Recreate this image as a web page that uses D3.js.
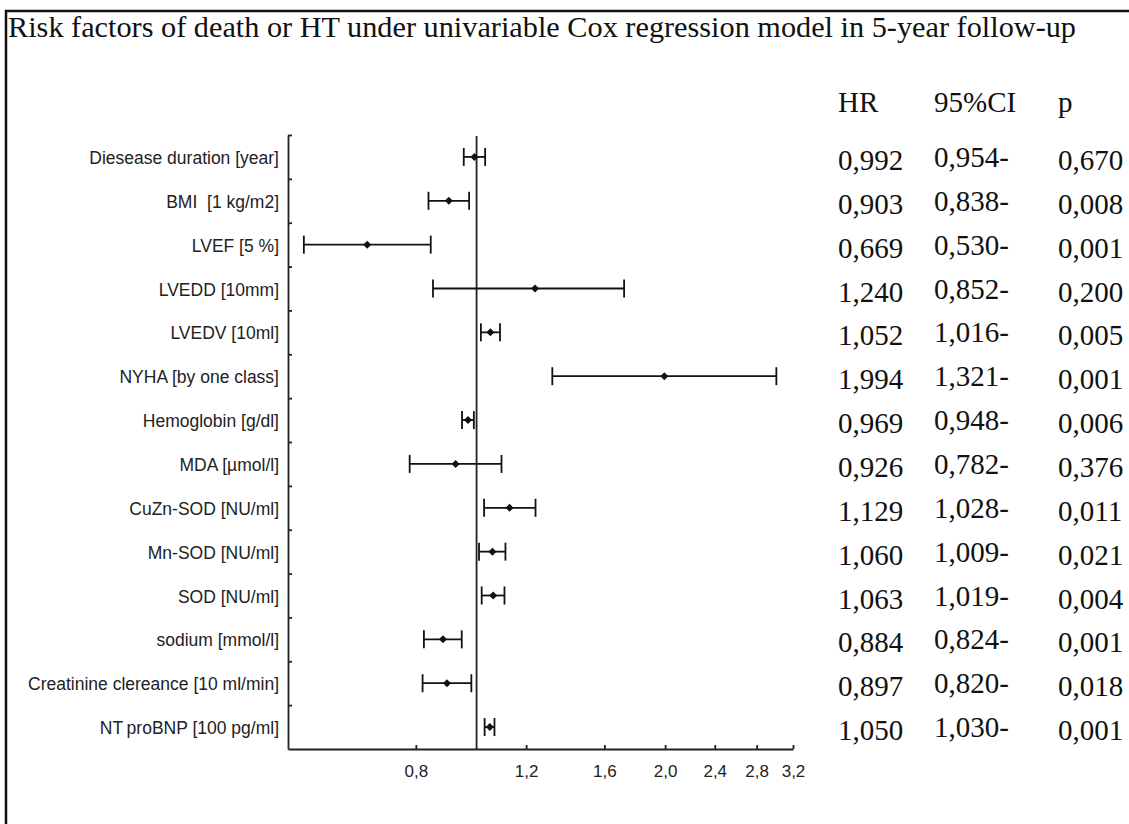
<!DOCTYPE html>
<html>
<head>
<meta charset="utf-8">
<script src="https://cdn.jsdelivr.net/npm/d3@7"></script>
<style>
  body { margin: 0; background: #fff; }
  svg { display: block; }
  text { white-space: pre; }
  .serif { font-family: "Liberation Serif", "Times New Roman", serif; fill: #111; }
  .sans { font-family: "Liberation Sans", Arial, sans-serif; fill: #222; }
</style>
</head>
<body>
<svg id="forest"></svg>
<script>
const labels = [
  "Diesease duration [year]",
  "BMI  [1 kg/m2]",
  "LVEF [5 %]",
  "LVEDD [10mm]",
  "LVEDV [10ml]",
  "NYHA [by one class]",
  "Hemoglobin [g/dl]",
  "MDA [\u00b5mol/l]",
  "CuZn-SOD [NU/ml]",
  "Mn-SOD [NU/ml]",
  "SOD [NU/ml]",
  "sodium [mmol/l]",
  "Creatinine clereance [10 ml/min]",
  "NT\u2009proBNP [100 pg/ml]"
];
const hr = [0.992, 0.903, 0.669, 1.240, 1.052, 1.994, 0.969, 0.926, 1.129, 1.060, 1.063, 0.884, 0.897, 1.050];
const ciLow = [0.954, 0.838, 0.530, 0.852, 1.016, 1.321, 0.948, 0.782, 1.028, 1.009, 1.019, 0.824, 0.820, 1.030];
const ciHigh = [1.032, 0.973, 0.845, 1.72, 1.09, 3.01, 0.99, 1.096, 1.242, 1.112, 1.108, 0.947, 0.981, 1.068];
const pValues = [0.670, 0.008, 0.001, 0.200, 0.005, 0.001, 0.006, 0.376, 0.011, 0.021, 0.004, 0.001, 0.018, 0.001];
const xTicks = [0.8, 1.2, 1.6, 2.0, 2.4, 2.8, 3.2];
const headers = ["HR", "95%CI", "p"];
const title = "Risk factors of death or HT under univariable Cox regression model in 5-year follow-up";

const w = 1129;
const h = 824;
const plotLeft = 288;
const plotRight = 793;
const plotTop = 135;
const plotBottom = 749;

const comma = (fmt) => (v) => d3.format(fmt)(v).replace(".", ",");

const svg = d3.select("#forest").attr("width", w).attr("height", h);

// frame (runs off the right and bottom edge like the source)
svg
  .append("rect")
  .attr("x", 6)
  .attr("y", 11)
  .attr("width", w + 20)
  .attr("height", h + 20)
  .attr("fill", "none")
  .attr("stroke", "#111")
  .attr("stroke-width", 2.5);

svg
  .append("text")
  .attr("class", "serif")
  .attr("x", 8)
  .attr("y", 37)
  .attr("font-size", 30)
  .attr("textLength", 1068)
  .attr("lengthAdjust", "spacingAndGlyphs")
  .text(title);

const x = d3.scaleLog().domain([0.5, 3.2]).range([plotLeft, plotRight]);
const y = d3.scaleBand().domain(labels).range([plotTop, plotBottom]).padding(0);
const yEdges = d3.scaleLinear().domain([0, labels.length]).range([plotTop, plotBottom]);

// axes
svg
  .append("g")
  .attr("transform", "translate(0," + plotBottom + ")")
  .call(
    d3
      .axisBottom(x)
      .tickValues(xTicks)
      .tickFormat(comma(".1f"))
      .tickSize(-4)
      .tickSizeOuter(0)
      .tickPadding(16)
  )
  .call((g) => g.selectAll("path, line").attr("stroke", "#222").attr("stroke-width", 1.8))
  .call((g) =>
    g.selectAll("text").attr("font-family", "Liberation Sans, Arial, sans-serif").attr("font-size", 17).attr("fill", "#222")
  );

svg
  .append("g")
  .attr("transform", "translate(" + plotLeft + ",0)")
  .call(
    d3
      .axisLeft(yEdges)
      .tickValues(d3.range(0, labels.length))
      .tickFormat("")
      .tickSize(-4)
      .tickSizeOuter(0)
  )
  .call((g) => g.selectAll("path, line").attr("stroke", "#222").attr("stroke-width", 1.8));

svg
  .selectAll(".label")
  .data(labels)
  .enter()
  .append("text")
  .attr("class", "label sans")
  .attr("x", plotLeft - 9)
  .attr("y", (d) => y(d) + y.bandwidth() / 2 + 7)
  .attr("text-anchor", "end")
  .attr("font-size", 17.5)
  .text((d) => d);

// reference line at HR = 1
svg
  .append("line")
  .attr("x1", x(1))
  .attr("x2", x(1))
  .attr("y1", plotTop + 1)
  .attr("y2", plotBottom)
  .attr("stroke", "#222")
  .attr("stroke-width", 1.8);

// error bars
const rows = labels.map((d, i) => ({ label: d, hr: hr[i], lo: ciLow[i], hi: ciHigh[i], p: pValues[i] }));
const cy = (d) => y(d.label) + y.bandwidth() / 2;
const capH = 9;

const bars = svg.append("g").attr("stroke", "#111").attr("stroke-width", 1.8);
bars
  .selectAll(".ci")
  .data(rows)
  .enter()
  .append("line")
  .attr("x1", (d) => x(d.lo))
  .attr("x2", (d) => x(d.hi))
  .attr("y1", cy)
  .attr("y2", cy);
bars
  .selectAll(".cap-lo")
  .data(rows)
  .enter()
  .append("line")
  .attr("x1", (d) => x(d.lo))
  .attr("x2", (d) => x(d.lo))
  .attr("y1", (d) => cy(d) - capH)
  .attr("y2", (d) => cy(d) + capH);
bars
  .selectAll(".cap-hi")
  .data(rows)
  .enter()
  .append("line")
  .attr("x1", (d) => x(d.hi))
  .attr("x2", (d) => x(d.hi))
  .attr("y1", (d) => cy(d) - capH)
  .attr("y2", (d) => cy(d) + capH);

svg
  .selectAll(".point")
  .data(rows)
  .enter()
  .append("path")
  .attr("class", "point")
  .attr("d", d3.symbol(d3.symbolSquare, 32))
  .attr("transform", (d) => "translate(" + x(d.hr) + "," + cy(d) + ") rotate(45)")
  .attr("fill", "#111");

// table on the right
const colX = [838, 934, 1058];
svg
  .selectAll(".head")
  .data(headers)
  .enter()
  .append("text")
  .attr("class", "head serif")
  .attr("x", (d, i) => colX[i])
  .attr("y", 112)
  .attr("font-size", 29)
  .text((d) => d);

const fmt3 = comma(".3f");
const cells = [
  { vals: rows.map((d) => fmt3(d.hr)), dy: 13 },
  { vals: rows.map((d) => fmt3(d.lo) + "-"), dy: 10 },
  { vals: rows.map((d) => fmt3(d.p)), dy: 13 }
];
cells.forEach((col, c) => {
  svg
    .selectAll(".col" + c)
    .data(rows)
    .enter()
    .append("text")
    .attr("class", "serif")
    .attr("x", colX[c])
    .attr("y", (d) => cy(d) + col.dy)
    .attr("font-size", 29)
    .text((d, i) => col.vals[i]);
});
</script>
</body>
</html>
